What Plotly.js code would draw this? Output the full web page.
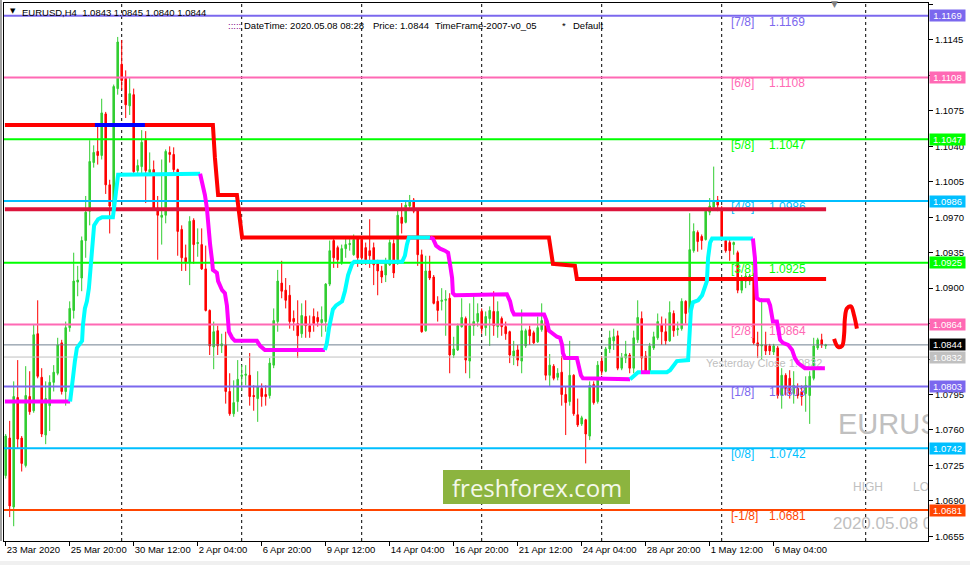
<!DOCTYPE html>
<html><head><meta charset="utf-8">
<script src="https://cdn.plot.ly/plotly-3.0.1.min.js"></script>
<style>html,body{margin:0;padding:0;background:#fff;}#chart{width:970px;height:565px;}</style>
</head><body><div id="chart"></div>
<script>
// ---------- DATA ----------
const symbol = 'EURUSD,H4';
const open = [1.0715,1.0752,1.0684,1.0792,1.0752,1.0725,1.0793,1.0779,1.0855,1.0812,1.0755,1.0784,1.0807,1.0816,1.0846,1.0798,1.0861,1.0878,1.0906,1.0910,
1.0947,1.0976,1.1024,1.1035,1.1031,1.1072,1.1002,1.0981,1.1097,1.1121,1.1107,1.1080,1.1091,1.1016,1.1020,1.1047,1.1014,1.1017,1.0979,1.0970,
1.0972,1.1034,1.1032,1.1017,1.0958,1.0930,1.0925,1.0967,1.0944,1.0943,1.0919,1.0878,1.0842,1.0858,1.0843,1.0844,1.0798,1.0776,1.0788,1.0813,
1.0814,1.0814,1.0794,1.0791,1.0801,1.0795,1.0794,1.0824,1.0867,1.0905,1.0898,1.0893,1.0870,1.0865,1.0855,1.0872,1.0863,1.0872,1.0871,1.0866,
1.0867,1.0904,1.0947,1.0940,1.0925,1.0939,1.0943,1.0933,1.0950,1.0948,1.0940,1.0937,1.0940,1.0924,1.0917,1.0913,1.0923,1.0944,1.0928,1.0970,
1.0965,1.0981,1.0987,1.0977,1.0933,1.0858,1.0917,1.0911,1.0887,1.0887,1.0888,1.0890,1.0834,1.0839,1.0862,1.0870,1.0828,1.0863,1.0867,1.0877,
1.0861,1.0870,1.0877,1.0862,1.0870,1.0862,1.0857,1.0833,1.0839,1.0828,1.0843,1.0859,1.0856,1.0847,1.0859,1.0869,1.0814,1.0823,1.0812,1.0817,
1.0795,1.0788,1.0814,1.0775,1.0766,1.0770,1.0754,1.0805,1.0788,1.0828,1.0818,1.0840,1.0848,1.0853,1.0821,1.0831,1.0834,1.0821,1.0849,1.0870,
1.0833,1.0818,1.0841,1.0851,1.0864,1.0857,1.0848,1.0875,1.0859,1.0860,1.0887,1.0876,1.0937,1.0955,1.0951,1.0948,1.0975,1.0980,1.0987,1.0977,
1.0947,1.0945,1.0943,1.0935,1.0898,1.0907,1.0907,1.0910,1.0846,1.0843,1.0844,1.0843,1.0837,1.0841,1.0794,1.0814,1.0811,1.0796,1.0801,1.0798,
1.0796,1.0794,1.0811,1.0841,1.0849,1.0843];
const high = [1.0756,1.0769,1.0808,1.0829,1.0754,1.0823,1.0818,1.0864,1.0888,1.0821,1.0808,1.0814,1.0824,1.0851,1.0849,1.0867,1.0887,1.0935,1.0922,1.0951,
1.0991,1.1046,1.1041,1.1060,1.1087,1.1074,1.1007,1.1101,1.1148,1.1145,1.1115,1.1108,1.1097,1.1027,1.1056,1.1055,1.1034,1.1026,1.0991,1.1027,
1.1037,1.1040,1.1039,1.1018,1.0962,1.0943,1.0971,1.0969,1.0959,1.0959,1.0942,1.0879,1.0867,1.0863,1.0855,1.0857,1.0816,1.0809,1.0829,1.0824,
1.0824,1.0836,1.0804,1.0818,1.0806,1.0804,1.0831,1.0880,1.0918,1.0927,1.0910,1.0903,1.0878,1.0888,1.0885,1.0888,1.0873,1.0880,1.0877,1.0882,
1.0905,1.0947,1.0951,1.0942,1.0943,1.0950,1.0950,1.0953,1.0951,1.0950,1.0945,1.0968,1.0945,1.0928,1.0922,1.0930,1.0948,1.0948,1.0977,1.0984,
1.0987,1.0992,1.0989,1.0978,1.0938,1.0932,1.0932,1.0913,1.0892,1.0900,1.0898,1.0895,1.0852,1.0865,1.0890,1.0872,1.0885,1.0893,1.0885,1.0880,
1.0877,1.0882,1.0897,1.0887,1.0872,1.0867,1.0858,1.0848,1.0844,1.0879,1.0860,1.0863,1.0858,1.0872,1.0885,1.0873,1.0835,1.0825,1.0821,1.0833,
1.0803,1.0848,1.0815,1.0791,1.0774,1.0771,1.0808,1.0808,1.0828,1.0833,1.0842,1.0858,1.0860,1.0858,1.0836,1.0848,1.0836,1.0858,1.0888,1.0877,
1.0838,1.0846,1.0857,1.0875,1.0872,1.0870,1.0887,1.0878,1.0867,1.0890,1.0888,1.0974,1.0964,1.0957,1.0953,1.0979,1.0989,1.1020,1.0991,1.0981,
1.0948,1.0948,1.0946,1.0937,1.0913,1.0915,1.0914,1.0915,1.0857,1.0890,1.0857,1.0845,1.0845,1.0843,1.0821,1.0816,1.0819,1.0818,1.0806,1.0804,
1.0813,1.0818,1.0851,1.0851,1.0855,1.0845];
const low = [1.0712,1.0674,1.0665,1.0742,1.0719,1.0723,1.0775,1.0777,1.0811,1.0753,1.0746,1.0759,1.0798,1.0814,1.0795,1.0784,1.0857,1.0870,1.0892,1.0897,
1.0930,1.0962,1.1019,1.1022,1.1027,1.0993,1.0954,1.0977,1.1091,1.1096,1.1068,1.1071,1.1012,1.1011,1.1012,1.0984,1.1011,1.0977,1.0928,1.0943,
1.0964,1.1024,1.1012,1.0932,1.0917,1.0917,1.0903,1.0924,1.0931,1.0918,1.0877,1.0834,1.0820,1.0834,1.0836,1.0786,1.0774,1.0773,1.0778,1.0799,
1.0804,1.0784,1.0779,1.0768,1.0783,1.0784,1.0791,1.0821,1.0857,1.0890,1.0880,1.0860,1.0858,1.0831,1.0851,1.0851,1.0851,1.0857,1.0862,1.0852,
1.0857,1.0902,1.0920,1.0920,1.0923,1.0930,1.0937,1.0932,1.0921,1.0928,1.0923,1.0920,1.0903,1.0893,1.0905,1.0906,1.0922,1.0910,1.0923,1.0954,
1.0964,1.0979,1.0974,1.0922,1.0856,1.0857,1.0908,1.0884,1.0867,1.0878,1.0853,1.0816,1.0831,1.0838,1.0861,1.0816,1.0811,1.0853,1.0862,1.0855,
1.0853,1.0843,1.0853,1.0851,1.0853,1.0849,1.0826,1.0824,1.0823,1.0816,1.0841,1.0844,1.0845,1.0846,1.0857,1.0809,1.0803,1.0809,1.0809,1.0784,
1.0755,1.0784,1.0774,1.0763,1.0764,1.0727,1.0750,1.0785,1.0786,1.0814,1.0817,1.0836,1.0839,1.0819,1.0819,1.0826,1.0816,1.0816,1.0846,1.0816,
1.0817,1.0817,1.0839,1.0849,1.0844,1.0844,1.0847,1.0852,1.0853,1.0858,1.0865,1.0875,1.0935,1.0936,1.0938,1.0947,1.0972,1.0977,1.0976,1.0948,
1.0935,1.0927,1.0933,1.0895,1.0895,1.0900,1.0903,1.0844,1.0831,1.0829,1.0834,1.0834,1.0834,1.0791,1.0781,1.0794,1.0791,1.0786,1.0791,1.0784,
1.0778,1.0766,1.0809,1.0839,1.0841,1.0840];
const close = [1.0754,1.0685,1.0793,1.0751,1.0727,1.0794,1.0778,1.0854,1.0813,1.0756,1.0791,1.0807,1.0817,1.0844,1.0798,1.0861,1.0880,1.0907,1.0908,1.0947,
1.0975,1.1025,1.1034,1.1031,1.1073,1.1002,1.0981,1.1099,1.1143,1.1105,1.1081,1.1092,1.1015,1.1021,1.1044,1.1016,1.1017,1.0979,1.0972,1.0972,
1.1035,1.1032,1.1017,1.0956,1.0930,1.0926,1.0966,1.0943,1.0945,1.0919,1.0878,1.0843,1.0857,1.0843,1.0845,1.0798,1.0776,1.0787,1.0810,1.0814,
1.0815,1.0793,1.0793,1.0803,1.0793,1.0793,1.0826,1.0868,1.0907,1.0897,1.0888,1.0867,1.0867,1.0853,1.0873,1.0863,1.0857,1.0865,1.0867,1.0869,
1.0904,1.0937,1.0930,1.0928,1.0939,1.0943,1.0944,1.0948,1.0930,1.0930,1.0928,1.0932,1.0923,1.0917,1.0911,1.0927,1.0945,1.0915,1.0972,1.0964,
1.0982,1.0986,1.0976,1.0933,1.0857,1.0917,1.0910,1.0885,1.0878,1.0888,1.0889,1.0834,1.0840,1.0863,1.0871,1.0829,1.0863,1.0867,1.0875,1.0860,
1.0872,1.0878,1.0863,1.0877,1.0862,1.0855,1.0834,1.0838,1.0829,1.0858,1.0858,1.0853,1.0846,1.0861,1.0868,1.0814,1.0824,1.0811,1.0816,1.0795,
1.0787,1.0814,1.0776,1.0765,1.0772,1.0756,1.0804,1.0787,1.0824,1.0818,1.0840,1.0851,1.0852,1.0821,1.0832,1.0835,1.0821,1.0851,1.0871,1.0831,
1.0818,1.0843,1.0852,1.0867,1.0857,1.0848,1.0876,1.0858,1.0860,1.0887,1.0875,1.0938,1.0956,1.0946,1.0947,1.0976,1.0981,1.0986,1.0982,1.0950,
1.0937,1.0937,1.0945,1.0898,1.0910,1.0912,1.0912,1.0846,1.0843,1.0844,1.0838,1.0838,1.0843,1.0794,1.0814,1.0801,1.0796,1.0804,1.0794,1.0793,
1.0804,1.0813,1.0843,1.0849,1.0844,1.0844];

const timeLabels = ['23 Mar 2020','25 Mar 20:00','30 Mar 12:00','2 Apr 04:00','6 Apr 20:00','9 Apr 12:00','14 Apr 04:00','16 Apr 20:00','21 Apr 12:00','24 Apr 04:00','28 Apr 20:00','1 May 12:00','6 May 04:00'];
const timeLabelBars = [0,16,32,48,64,80,96,112,128,144,160,176,192];
const weekStartBars = [29,59,89,119,149,179,215];

// price axis ticks (labels hidden where a price tag covers them)
const priceTicks = [1.0655,1.0690,1.0725,1.0760,1.0795,1.0830,1.0865,1.0900,1.0935,1.0970,1.1005,1.1040,1.1075,1.1110,1.1145,1.1180];
const coveredTicks = [1.0865,1.1110];

// Murrey Math levels
const mmNames  = ['[7/8]','[6/8]','[5/8]','[4/8]','[3/8]','[2/8]','[1/8]','[0/8]','[-1/8]'];
const mmLevels = [1.1169,1.1108,1.1047,1.0986,1.0925,1.0864,1.0803,1.0742,1.0681];
const currentPrice = 1.0844;
const yesterdayClose = 1.0832;

// indicator lines (bar index, price)
const stopX = [-0.2,51.8,52.3,52.8,53.1,57.8,58.6,59.1,135.8,136.3,136.8,142.3,142.8,205.1];
const stopY = [1.1061,1.1061,1.1029,1.1003,1.0992,1.0992,1.0964,1.0950,1.0950,1.0935,1.0924,1.0922,1.0909,1.0909];
const pivotBars = [-0.2,205.1];
const pivotLevel = 1.0978;
const blueBars = [22.3,34.8];
const blueLevel = 1.1061;

const trendSegments = [
 {up:false, x:[-0.2,16.1], y:[1.0788,1.0788]},
 {up:true, x:[16.1,16.6,16.8,17.3,17.8,19.1,19.3,19.8,20.3,20.8,21.3,21.8,22.1,23.1,24.1,26.8,27.3,27.8,28.1,48.6],
           y:[1.0788,1.0801,1.0811,1.0828,1.0841,1.0848,1.0863,1.0880,1.0887,1.0900,1.0927,1.0953,1.0962,1.0968,1.0970,1.0970,1.0986,1.1006,1.1012,1.1013]},
 {up:false, x:[48.6,49.3,49.8,50.3,50.6,51.1,51.6,51.8,52.8,53.1,54.1,54.8,55.3,55.6,55.8,56.6,57.3,62.8,63.6,64.8,79.8],
           y:[1.1013,1.1002,1.0992,1.0979,1.0962,1.0943,1.0927,1.0918,1.0915,1.0907,1.0898,1.0895,1.0883,1.0867,1.0857,1.0851,1.0848,1.0848,1.0843,1.0839,1.0839]},
 {up:true, x:[79.8,80.3,80.8,81.3,81.8,82.6,84.1,84.8,85.6,86.6,87.1,99.1,99.8,100.3,100.8,106.1],
           y:[1.0839,1.0846,1.0860,1.0872,1.0879,1.0883,1.0887,1.0897,1.0913,1.0924,1.0926,1.0926,1.0932,1.0943,1.0950,1.0950]},
 {up:false, x:[106.1,106.8,107.6,108.6,109.8,110.6,111.1,111.6,111.8,112.3,125.3,126.1,126.6,127.1,134.6,135.3,135.8,136.8,137.8,138.6,139.1,139.3,139.8,142.8,143.3,143.8,144.3,156.1],
           y:[1.0950,1.0949,1.0942,1.0939,1.0937,1.0935,1.0923,1.0910,1.0895,1.0893,1.0894,1.0887,1.0878,1.0874,1.0874,1.0867,1.0858,1.0855,1.0852,1.0851,1.0844,1.0836,1.0831,1.0831,1.0821,1.0814,1.0811,1.0810]},
 {up:true, x:[156.1,157.3,158.1,158.8], y:[1.0810,1.0814,1.0817,1.0817]},
 {up:false, x:[158.8,161.1], y:[1.0817,1.0817]},
 {up:true, x:[161.1,165.3,166.1,167.8,170.6,171.1,171.3,171.8,173.1,174.1,174.8,175.3,175.6,176.1,176.6,186.8],
           y:[1.0817,1.0817,1.0819,1.0828,1.0829,1.0857,1.0878,1.0886,1.0888,1.0893,1.0900,1.0907,1.0930,1.0945,1.0949,1.0949]},
 {up:false, x:[186.8,187.3,187.6,187.8,188.6,190.6,191.1,191.6,191.8,192.8,193.1,193.6,194.3,195.6,196.6,197.3,198.1,199.3,199.8,204.8],
           y:[1.0949,1.0930,1.0903,1.0890,1.0888,1.0888,1.0883,1.0870,1.0867,1.0867,1.0860,1.0849,1.0846,1.0844,1.0839,1.0831,1.0826,1.0823,1.0821,1.0821]}
];

// hand-drawn forecast curve
const curveX = [207.1,208.1,209.1,209.6,209.8,210.3,211.3,212.1,212.8];
const curveY = [1.0850,1.0842,1.0843,1.0854,1.0870,1.0880,1.0882,1.0873,1.0860];

// ---------- LAYOUT HELPERS ----------
const X0=-0.425, X1=230.575, Y0=1.06504, Y1=1.11815;
const ML=4, MT=3, PW=924, PH=538;
const FONT='Liberation Sans, Arial, sans-serif';
const px = x => (x-ML)/PW;
const py = y => 1-(y-MT)/PH;
const dx = x => X0 + (x-ML)/PW*(X1-X0);
const dy = y => Y1 - (y-MT)/PH*(Y1-Y0);
const pipPx = (Y1-Y0)/PH;

const mmColors = ['#7B68EE','#FF69B4','#00FF00','#00BFFF','#00FF00','#FF69B4','#7B68EE','#00BFFF','#FF4500'];

const bars = open.map((_,i)=>i);
const traces = [];

traces.push({type:'candlestick', x:bars, open:open, high:high, low:low, close:close,
  increasing:{line:{color:'#32CD32',width:1}, fillcolor:'#32CD32'},
  decreasing:{line:{color:'#FF0000',width:1}, fillcolor:'#FF0000'},
  whiskerwidth:0, hoverinfo:'skip', showlegend:false});

// murrey labels (text)
traces.push({type:'scatter', mode:'text', x:mmNames.map(()=>dx(731)), y:mmLevels.map(v=>v-7*pipPx),
  text:mmNames, textposition:'middle right', textfont:{family:FONT,size:12,color:mmColors}, hoverinfo:'skip', showlegend:false});
traces.push({type:'scatter', mode:'text', x:mmNames.map(()=>dx(769)), y:mmLevels.map(v=>v-7*pipPx),
  text:mmLevels.map(v=>v.toFixed(4)), textposition:'middle right', textfont:{family:FONT,size:12,color:mmColors}, hoverinfo:'skip', showlegend:false});
traces.push({type:'scatter', mode:'text', x:[dx(706)], y:[yesterdayClose-7*pipPx],
  text:['Yesterday Close '+yesterdayClose.toFixed(4)], textposition:'middle right', textfont:{family:FONT,size:11,color:'#C0C0C0'}, hoverinfo:'skip', showlegend:false});

// murrey lines
mmLevels.forEach((v,i)=>traces.push({type:'scatter', mode:'lines', x:[X0,X1], y:[v,v], line:{color:mmColors[i],width:2}, hoverinfo:'skip', showlegend:false, cliponaxis:false}));
traces.push({type:'scatter', mode:'lines', x:[X0,X1], y:[currentPrice,currentPrice], line:{color:'#708090',width:1}, hoverinfo:'skip', showlegend:false});
traces.push({type:'scatter', mode:'lines', x:[X0,X1], y:[yesterdayClose,yesterdayClose], line:{color:'#C0C0C0',width:1}, hoverinfo:'skip', showlegend:false});

// pivot & stop lines
traces.push({type:'scatter', mode:'lines', x:pivotBars, y:[pivotLevel,pivotLevel], line:{color:'#DC143C',width:4}, hoverinfo:'skip', showlegend:false});
traces.push({type:'scatter', mode:'lines', x:stopX, y:stopY, line:{color:'#FF0000',width:4}, hoverinfo:'skip', showlegend:false});
traces.push({type:'scatter', mode:'lines', x:blueBars, y:[blueLevel,blueLevel], line:{color:'#0000FF',width:4}, hoverinfo:'skip', showlegend:false});

trendSegments.forEach(s=>traces.push({type:'scatter', mode:'lines', x:s.x, y:s.y, line:{color:s.up?'#00FFFF':'#FF00FF',width:4}, hoverinfo:'skip', showlegend:false}));

traces.push({type:'scatter', mode:'lines', x:curveX, y:curveY, line:{color:'#FF0000',width:4,shape:'spline'}, hoverinfo:'skip', showlegend:false});

// clipped big gray texts
const gray = (txt,x,y,size)=>({type:'scatter', mode:'text', x:[dx(x)], y:[dy(y)], text:[txt], textposition:'middle right',
  textfont:{family:FONT,size:size,color:'#C0C0C0'}, cliponaxis:true, hoverinfo:'skip', showlegend:false});
traces.push(gray('EURUSD',838,427,29));
traces.push(gray('HIGH',853,488,12));
traces.push(gray('LOW',913,488,12));
traces.push(gray('2020.05.08 08:28',833,525,17));

// ---------- ANNOTATIONS ----------
const ann = (text,x,y,opt={}) => Object.assign({text:text, xref:'paper', yref:'paper', x:px(x), y:py(y), xanchor:'left', yanchor:'middle',
  showarrow:false, font:{family:FONT,size:9.5,color:'#000'}}, opt);
const last = open.length-1;
const annotations = [
  ann('▼',8,11,{font:{family:'DejaVu Sans',size:7,color:'#000'}}),
  ann(symbol+'  '+open[last].toFixed(4)+' '+high[last].toFixed(4)+' '+low[last].toFixed(4)+' '+close[last].toFixed(4),20,12),
  ann(':::::',226,26,{font:{family:FONT,size:9.5,color:'#800080'}}),
  ann('DateTime: 2020.05.08 08:28',242,26),
  ann('Price: '+currentPrice.toFixed(4),371,26),
  ann('TimeFrame-2007-v0_05',433,26),
  ann('*',560,26),
  ann('Default',571,26),
  ann('▼',829,4,{font:{family:'DejaVu Sans',size:9,color:'#808080'}}),
  ann('freshforex.com',536.5,487,{xanchor:'center',font:{family:'Open Sans',size:24,color:'#F4F8EA'}})
];
// price tags on the right axis
const tag = (v,bg)=>({text:v.toFixed(4), xref:'paper', yref:'y', x:px(929), y:v, xanchor:'left', yanchor:'middle', showarrow:false,
  bgcolor:bg, width:35, height:11, borderpad:0, align:'center', font:{family:FONT,size:9.5,color:'#FFFFFF'}});
mmLevels.forEach((v,i)=>annotations.push(tag(v,mmColors[i])));
annotations.push(tag(currentPrice,'#000000'));
annotations.push(tag(yesterdayClose,'#C0C0C0'));

// ---------- SHAPES ----------
const shapes = weekStartBars.map(b=>({type:'line', xref:'x', yref:'paper', x0:b, x1:b, y0:0, y1:1, layer:'below',
  line:{color:'#000',width:1,dash:'dot'}}));
shapes.push({type:'rect', xref:'paper', yref:'paper', x0:px(443), x1:px(630), y0:py(504), y1:py(470), fillcolor:'#8CB43F', line:{width:0}, layer:'above'});
shapes.push({type:'rect', xref:'paper', yref:'paper', x0:px(0), x1:px(2), y0:py(541), y1:py(0), fillcolor:'#A0A0A0', line:{width:0}});
shapes.push({type:'rect', xref:'paper', yref:'paper', x0:px(0), x1:px(970), y0:py(566), y1:py(561), fillcolor:'#F0F0F0', line:{width:0}});

const layout = {
  width:970, height:565, margin:{l:ML, r:970-ML-PW, t:MT, b:565-MT-PH},
  paper_bgcolor:'#FFFFFF', plot_bgcolor:'#FFFFFF', showlegend:false, hovermode:false, dragmode:false,
  boxgap:0.45,
  xaxis:{range:[X0,X1], type:'linear', rangeslider:{visible:false}, showgrid:false, zeroline:false,
    tickmode:'array', tickvals:timeLabelBars, ticktext:timeLabels, ticks:'outside', ticklen:4, tickcolor:'#000',
    tickangle:0, ticklabelposition:'outside right', tickfont:{family:FONT,size:9.5,color:'#000'},
    showline:true, mirror:true, linecolor:'#000', linewidth:1, fixedrange:true, automargin:false},
  yaxis:{range:[Y0,Y1], side:'right', showgrid:false, zeroline:false, tickmode:'array', tickvals:priceTicks,
    ticktext:priceTicks.map(v=>coveredTicks.includes(v)?'':v.toFixed(4)),
    ticks:'outside', ticklen:4, tickcolor:'#000', tickfont:{family:FONT,size:9.5,color:'#000'},
    showline:true, mirror:true, linecolor:'#000', linewidth:1, fixedrange:true, automargin:false},
  annotations:annotations, shapes:shapes
};
Plotly.newPlot('chart', traces, layout, {displayModeBar:false, staticPlot:true});
</script>
</body></html>
